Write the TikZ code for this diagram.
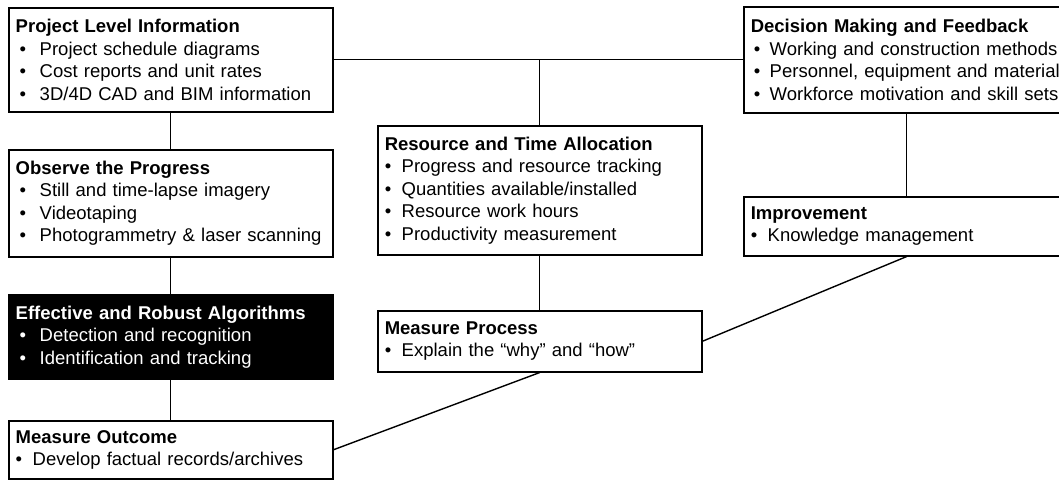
\documentclass[tikz,border=0pt]{standalone}
\usepackage{fontspec}
\setmainfont{Liberation Sans}
\tikzset{>=latex}
\tikzset{
  stage/.style={draw, fill=white, line width=1.5pt, anchor=north west, align=left,
    inner xsep=7pt, inner ysep=0pt, minimum width=324pt, text width=310pt,
    font=\fontsize{18.5}{22.5}\selectfont},
  wide/.style={stage, minimum width=326pt, text width=312pt},
  dark/.style={stage, fill=black, text=white},
  link/.style={line width=1.4pt}
}
% bullet lines: narrow, indented and wide
\newcommand{\bul}{\\\makebox[17pt][l]{\textbullet}}
\newcommand{\ibul}{\\\hspace*{3pt}\makebox[16pt][l]{\textbullet}}
\newcommand{\wbul}{\\\hspace*{4pt}\makebox[20pt][l]{\textbullet}}

\begin{document}
\begin{tikzpicture}[x=1pt, y=-1pt]
  \useasboundingbox (0,0) rectangle (1059,479);
  % left column
  \node (proj) at (8,7) [stage, minimum height=104pt] {\textbf{Project Level Information}
    \wbul Project schedule diagrams\wbul Cost reports and unit rates\wbul 3D/4D CAD and BIM information};
  \node (obs) at (8,149) [stage, minimum height=107pt] {\textbf{Observe the Progress}
    \wbul Still and time-lapse imagery\wbul Videotaping\wbul Photogrammetry \& laser scanning};
  \node (algo) at (8,294) [dark, minimum height=84pt] {\textbf{Effective and Robust Algorithms}
    \wbul Detection and recognition\wbul Identification and tracking};
  \node (outc) at (8,420) [stage, minimum height=58pt] {\textbf{Measure Outcome}
    \bul Develop factual records/archives};
  % middle column
  \node (res) at (377,125) [stage, minimum height=129pt] {\textbf{Resource and Time Allocation}
    \bul Progress and resource tracking\bul Quantities available/installed\bul Resource work hours\bul Productivity measurement};
  \node (proc) at (377,310) [stage, minimum height=61pt] {\textbf{Measure Process}
    \bul Explain the “why” and “how”};
  % right column
  \node (deci) at (743,6) [wide, minimum height=106pt] {\textbf{Decision Making and Feedback}
    \ibul Working and construction methods\ibul Personnel, equipment and material\ibul Workforce motivation and skill sets};
  \node (impr) at (743,196) [wide, minimum height=59pt] {\textbf{Improvement}
    \bul Knowledge management};
  % connectors
  \draw[link] (proj.east) -- (deci.west);
  \draw[link] (res.north |- proj.east) -- (res.north);
  \draw[link] (proj.south) -- (obs.north);
  \draw[link] (obs.south) -- (algo.north);
  \draw[link] (algo.south) -- (outc.north);
  \draw[link] (deci.south) -- (impr.north);
  \draw[link] (res.south) -- (proc.north);
  \draw[link] (outc.east) -- (proc.south);
  \draw[link] (proc.east) -- (impr.south);
\end{tikzpicture}
\end{document}
